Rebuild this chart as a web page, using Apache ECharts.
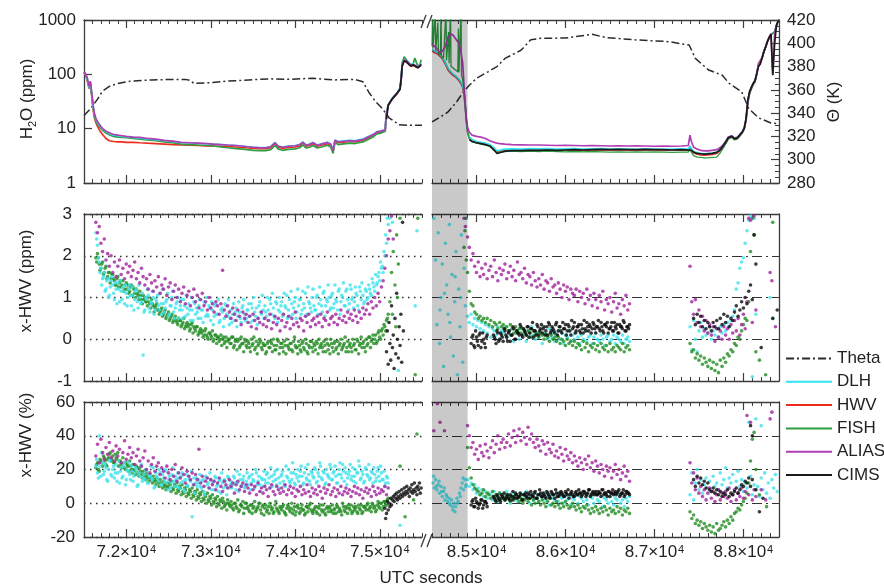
<!DOCTYPE html>
<html>
<head>
<meta charset="utf-8">
<script src="https://cdn.jsdelivr.net/npm/echarts/dist/echarts.min.js"></script>
<style>html,body{margin:0;padding:0;background:#fff}#chart{width:884px;height:587px}</style>
</head>
<body>
<div id="chart"></div>
<script>
// ---------- UTC ranges of the two flight segments (axis break between them) ----------
const rangeL = [71500, 75500];
const rangeR = [84500, 88400];
const majorL = [72000, 73000, 74000, 75000];
const majorR = [85000, 86000, 87000, 88000];
const shade = [84500, 84900];            // shaded interval (UTC s)

// ---------- top panel: H2O (ppm) per instrument, first segment ----------
const tTopL = [71500,71520,71540,71560,71575,71590,71605,71620,
  71640,71660,71690,71720,71760,71800,71850,71900,71950,72000,
  72080,72160,72250,72350,72450,72550,72650,72750,72850,72950,
  73030,73120,73200,73300,73380,73430,73500,73580,73650,73710,
  73760,73800,73850,73920,74000,74050,74090,74130,74170,74210,
  74260,74300,74340,74380,74420,74447,74470,74510,74550,74600,
  74650,74700,74750,74800,74850,74885,74930,74967,75000,75040,
  75065,75075,75100,75145,75180,75205,75240,75255,75265,75290,
  75320,75345,75370,75395,75415,75450,75475,75490];
const dlhTopL = [110,100,80,58,72,45,28,19,
  15,13,11.2,9.8,8.8,8.2,7.6,7.4,7.2,7.1,
  6.9,6.7,6.5,6.3,6.0,5.8,5.5,5.45,5.35,5.3,
  5.2,5.1,5.0,4.9,4.8,4.7,4.6,4.5,4.5,4.7,
  5.6,4.8,4.6,4.8,4.9,5.1,5.7,5.0,5.2,5.6,
  5.0,5.2,5.4,5.6,5.2,4.0,6.2,5.8,5.9,6.0,
  6.1,6.0,6.2,6.4,7.0,7.4,8.0,8.8,9.0,9.3,
  9.8,18,28,36,42,46,56,90,150,190,
  175,165,150,155,165,140,150,160];
const aliasTopL = [112,102,85,60,75,48,30,20,
  15.5,13.5,11.5,10,9.0,8.4,7.8,7.6,7.4,7.2,
  7.0,6.9,6.6,6.4,6.1,5.9,5.6,5.5,5.4,5.3,
  5.2,5.1,5.0,4.9,4.75,4.65,4.55,4.45,4.45,4.65,
  5.5,4.75,4.55,4.75,4.85,5.05,5.6,4.95,5.15,5.5,
  4.95,5.15,5.35,5.55,5.15,3.9,6.1,5.7,5.8,5.9,
  6.0,5.9,6.1,6.3,6.9,7.3,7.9,8.7,8.9,9.2,
  9.7,17,27,35,41,45,55,88,145,185,
  175,160,148,150,160,138,148,155];
const hwvTopL = [105,95,75,55,68,42,25,16.5,
  13,11,9,7.8,6.6,6.0,5.8,5.7,5.7,5.6,
  5.6,5.5,5.4,5.3,5.2,5.1,5.0,4.95,4.9,4.8,
  4.8,4.75,4.7,4.6,4.5,4.45,4.35,4.3,4.3,4.45,
  5.3,4.55,4.35,4.5,4.6,4.8,5.4,4.75,4.9,5.3,
  4.75,4.9,5.1,5.3,4.9,3.8,5.9,5.5,5.6,5.7,
  5.8,5.7,5.9,6.1,6.6,7.0,7.6,8.3,8.6,8.9,
  9.3,17,27,34,40,44,53,85,140,180,
  165,155,140,145,155,132,142,150];
const fishTopL = [108,98,78,56,70,44,27,18,
  14,12,10.5,9.3,8.3,7.7,7.2,7.0,6.9,6.8,
  6.6,6.4,6.2,6.0,5.7,5.5,5.2,5.1,5.0,4.9,
  4.8,4.6,4.45,4.3,4.2,4.1,4.0,3.95,3.95,4.1,
  4.9,4.2,4.0,4.15,4.25,4.45,5.0,4.4,4.55,4.9,
  4.4,4.55,4.75,4.95,4.6,3.5,5.5,5.1,5.2,5.3,
  5.4,5.3,5.5,5.7,6.2,6.6,7.2,8.0,8.2,8.6,
  9.0,17,27,35,41,45,55,92,165,210,
  180,165,150,155,200,140,150,185];
const tCimsTopL = [75080,75100,75145,75180,75205,75240,75255,75265,75290,75320,75345,75370,75395,75415,75450,75475,75490];
const cimsTopL = [15,27,35,40,45,53,86,142,178,168,152,142,150,156,132,142,152];

// ---------- top panel: H2O (ppm), second segment ----------
const tTopR = [84500,84530,84560,84590,84620,84650,84680,84710,84740,84770,
  84800,84825,84845,84860,84872,84885,84900,84920,84950,85000,
  85050,85100,85150,85200,85231,85260,85320,85400,85500,85600,
  85700,85800,85900,86000,86100,86200,86300,86400,86500,86600,
  86700,86800,86900,87000,87100,87200,87300,87380,87400,87415,
  87440,87480,87520,87560,87600,87650,87700,87740,87770,87800,
  87830,87870,87900,87930,87960,87990,88010,88030,88050,88070,
  88090,88110,88130,88150,88170,88190,88210,88230,88250,88270,
  88290,88310,88330,88350,88370,88390,88400];
const hwvTopR = [270,250,240,215,190,155,120,105,95,88,
  78,68,58,42,27,14,8.5,6.6,6.0,5.6,
  5.4,5.2,4.9,4.2,3.7,3.8,4.0,4.05,4.0,4.1,
  4.05,4.1,4.0,4.05,4.1,4.0,4.05,4.1,4.05,4.1,
  4.05,4.0,4.1,4.05,4.0,4.05,4.1,4.0,4.6,4.1,
  3.6,3.4,3.3,3.25,3.3,3.35,3.5,4.0,4.6,5.4,
  6.6,7.1,6.4,6.6,7.5,8.6,10,14,30,45,
  55,65,73,100,160,150,200,260,320,400,
  470,540,580,600,780,950,1000];
const dlhTopR = [290,270,255,230,200,165,130,112,100,92,
  82,72,62,46,30,15,9,7.0,6.3,5.8,
  5.6,5.4,5.1,4.4,3.9,4.0,4.2,4.25,4.2,4.3,
  4.25,4.3,4.2,4.25,4.3,4.2,4.25,4.3,4.2,4.25,
  4.2,4.15,4.25,4.2,4.15,4.2,4.25,4.2,4.8,4.3,
  3.8,3.6,3.5,3.45,3.5,3.55,3.7,4.2,4.9,5.8,
  7.0,7.4,6.7,6.9,7.8,9.0,10.5,15,32,47,
  57,67,76,104,150,160,205,265,325,405,
  475,545,590,610,790,960,1000];
// FISH inside the shaded interval is spiky, so it has its own finer time base
const fishGrayTop = [[84500,330],[84506,1500],[84512,300],[84530,290],[84536,1500],[84542,270],
  [84560,250],[84566,900],[84572,240],[84595,230],[84601,1500],[84607,220],[84630,200],
  [84651,190],[84657,1500],[84663,180],[84680,170],[84686,600],[84692,160],[84702,150],
  [84708,1500],[84714,140],[84740,130],[84760,120],[84790,112],[84797,700],[84803,108],
  [84820,100],[84826,1500],[84832,95],[84845,80],[84860,55],[84872,30],[84885,15],[84900,9]];
const fishTopR = [null,null,null,null,null,null,null,null,null,null,
  null,null,null,null,null,null,null,6.5,5.8,5.4,
  5.2,5.0,4.7,4.0,3.6,3.7,3.8,3.85,3.8,3.85,
  3.8,3.85,3.8,3.75,3.8,3.75,3.8,3.75,3.7,3.75,
  3.7,3.75,3.7,3.75,3.7,3.65,3.7,3.7,4.2,3.7,
  3.2,3.0,2.95,2.9,2.9,2.95,3.0,3.6,4.3,5.2,
  6.4,6.9,6.2,6.4,7.3,8.4,9.8,15,31,44,
  54,64,72,100,155,150,195,255,315,395,
  465,535,580,600,780,950,1000];
const aliasTopR = [350,330,290,250,270,330,480,560,520,440,
  380,260,160,60,30,16,10.5,8.6,7.6,7.2,
  7.0,6.6,6.0,5.6,5.4,5.3,5.2,5.1,5.05,5.0,
  5.0,4.95,4.9,4.95,4.9,4.85,4.9,4.85,4.8,4.85,
  4.8,4.85,4.8,4.75,4.8,4.75,4.8,4.9,7.6,5.8,
  4.6,4.2,4.0,3.9,3.9,4.0,4.1,4.5,5.0,5.8,
  7.0,7.4,6.7,6.9,7.8,9.0,10.5,15,33,48,
  58,68,77,105,150,160,205,265,325,410,
  490,560,95,520,800,960,1000];
const cimsTopR = [null,null,null,null,null,null,null,null,null,null,
  null,null,null,null,null,null,null,6.3,5.8,5.5,
  5.3,5.1,4.8,4.0,3.5,3.6,3.85,3.95,3.95,4.0,
  4.0,4.05,4.0,4.05,4.1,4.05,4.1,4.15,4.1,4.15,
  4.1,4.1,4.15,4.1,4.1,4.05,4.1,4.05,4.4,4.0,
  3.7,3.5,3.45,3.4,3.45,3.5,3.65,4.1,4.8,5.6,
  6.8,7.2,6.5,6.7,7.6,8.8,10.2,15.5,34,48,
  58,68,76,103,140,155,200,260,320,400,
  480,550,98,350,780,950,1000];

// ---------- potential temperature Theta (K) ----------
const tThetaL = [71500,71580,71660,71720,71800,71900,72050,72300,72550,72700,72760,72800,72950,73200,
  73450,73700,73950,74200,74450,74700,74800,74870,74950,75030,75110,75230,75350,75500];
const thetaL = [338,344,352,359,363,365.5,367.5,368.5,369,369,368,365.5,366,367.5,
  368.5,369.5,369,370,368.5,369,367,358,350,344,336,330,329.5,329.5];
const tThetaR = [84500,84600,84680,84780,84840,84920,85000,85130,85230,85320,85500,85610,85720,86000,
  86300,86450,86780,87160,87390,87460,87610,87760,87840,87980,88060,88170,88310,88400];
const thetaR = [332.5,337,341,350,357,364,370,375.5,380,387,394,403,404.3,404.5,
  407.7,405,403,401.4,398.5,387,377,372.7,365.6,358.4,344,336,331.5,331];

// ---------- difference to HWV, two interleaved 20 s sample series ----------
const dt = 20;
const tMidL0 = 71640, tMidL1 = 71650, tSegA0 = 84900, tCimsA0 = 84940, tCimsA1 = 84950, tSegB0 = 87400, tCimsB0 = 87440;

// x-HWV (ppm), first segment
const dlhPpmL = [2.55,2.25,1.85,1.7,1.45,1.6,1.2,1.45,1.05,1.4,
  1.3,0.95,1.2,1.35,0.9,1.15,1.25,0.85,1.1,1.0,
  1.3,0.8,1.05,0.95,1.2,0.75,1.0,0.9,-0.38,0.7,
  0.95,1.05,0.65,0.85,1.0,0.7,0.9,0.8,1.1,0.6,
  0.85,0.75,0.95,0.55,0.8,1.0,0.65,0.75,0.9,0.5,
  0.8,0.7,0.95,0.55,0.75,0.85,0.45,0.7,0.9,0.6,
  0.65,0.8,0.5,0.7,0.9,0.55,0.6,0.8,0.45,0.7,
  0.55,0.85,0.6,0.4,0.7,0.65,0.5,0.8,0.55,0.35,
  0.7,0.6,0.45,0.75,0.55,0.65,0.4,0.8,0.6,0.5,
  0.7,0.55,0.85,0.45,0.65,0.75,0.5,0.9,0.6,0.7,
  0.8,0.55,0.7,0.95,0.6,0.75,0.5,0.85,0.7,0.65,
  0.9,0.6,0.8,1.05,0.7,0.55,0.85,0.75,1.0,0.65,
  0.8,0.95,0.7,0.85,1.1,0.6,0.9,0.75,1.0,0.8,
  0.7,1.05,0.85,0.95,0.65,1.15,0.8,0.9,1.0,0.75,
  1.1,0.85,0.95,0.7,1.2,0.9,1.0,0.8,1.15,0.95,
  0.85,1.2,1.0,0.9,1.1,0.8,1.25,0.95,1.05,0.9,
  1.15,1.0,1.2,1.05,1.35,1.15,1.3,1.5,1.4,1.7,
  1.6,2.0,2.3,2.75];
const dlhPpmL2 = [2.4,1.95,1.6,1.3,1.5,1.15,1.4,1.0,1.25,1.5,
  1.1,1.35,0.85,1.2,1.4,0.95,1.15,1.3,0.8,1.2,
  1.05,1.25,0.7,1.15,0.9,1.3,0.85,1.1,0.65,1.0,
  1.2,0.75,0.9,1.15,0.6,0.95,1.05,0.7,0.85,1.2,
  0.65,0.9,1.1,0.6,0.8,1.15,0.5,0.85,1.0,0.7,
  0.95,0.5,0.8,1.05,0.6,0.7,1.0,0.45,0.85,0.75,
  0.5,0.95,0.7,0.4,0.85,1.0,0.55,0.75,0.9,0.35,
  0.8,0.6,0.95,0.45,0.75,0.3,0.85,0.6,0.95,0.5,
  0.4,0.85,0.65,0.3,0.9,0.5,0.75,0.95,0.45,0.7,
  0.85,0.4,0.75,1.0,0.55,0.35,0.8,0.65,1.05,0.5,
  0.65,1.0,0.45,0.85,1.1,0.55,0.9,0.4,1.0,0.8,
  0.55,1.1,0.75,0.5,0.95,1.15,0.6,0.9,0.5,1.2,
  0.95,0.6,1.15,0.75,0.55,1.25,0.85,0.65,1.2,0.7,
  1.0,0.6,1.25,0.8,1.1,0.55,0.95,1.3,0.7,1.05,
  0.75,1.3,0.9,1.15,0.6,1.05,1.35,0.8,1.2,0.7,
  1.3,0.95,0.75,1.25,1.05,0.7,1.15,1.35,0.85,1.2,
  0.95,1.3,1.1,1.45,1.25,1.55,1.35,1.6,1.85,1.75,
  2.1,2.5,2.9];
const dlhPpmLx = [[75120,2.9],[75150,2.8],[75220,-0.75],[75420,0.8],[75440,2.6]];
const fishPpmL = [1.95,2.05,1.8,1.7,1.85,1.6,1.75,1.5,1.6,1.45,
  1.55,1.4,1.3,1.5,1.35,1.25,1.4,1.2,1.35,1.3,
  1.15,1.3,1.25,1.1,1.2,1.05,1.15,0.95,1.05,1.0,
  0.9,1.0,0.85,0.95,0.8,0.75,0.85,0.7,0.65,0.75,
  0.6,0.7,0.55,0.65,0.5,0.6,0.45,0.55,0.4,0.5,
  0.45,0.35,0.5,0.3,0.4,0.35,0.25,0.4,0.3,0.2,
  0.3,0.15,0.25,0.2,0.1,0.25,0.05,0.15,0.1,0.2,
  0.0,0.1,0.05,-0.05,0.1,0.0,-0.1,0.05,-0.05,0.0,
  -0.1,0.05,-0.15,0.0,-0.05,-0.2,0.05,-0.1,0.0,-0.15,
  -0.05,-0.2,0.0,-0.1,-0.25,-0.05,-0.15,0.0,-0.2,-0.1,
  -0.15,-0.3,-0.05,-0.2,-0.1,0.0,-0.25,-0.15,-0.05,-0.2,
  -0.1,-0.3,-0.15,0.0,-0.2,-0.1,-0.25,-0.05,-0.15,-0.2,
  -0.05,-0.25,-0.1,-0.2,0.0,-0.3,-0.15,-0.05,-0.2,-0.1,
  -0.25,-0.1,0.0,-0.15,-0.2,-0.05,-0.3,-0.1,-0.15,0.0,
  -0.2,-0.1,-0.25,-0.05,-0.15,0.0,-0.2,-0.1,-0.3,-0.05,
  -0.15,-0.2,0.0,-0.1,-0.25,-0.05,-0.15,0.05,-0.1,-0.2,
  0.0,-0.1,0.05,-0.05,0.1,0.0,-0.1,0.15,0.05,0.2,
  0.1,0.3,0.45,0.6];
const fishPpmL2 = [1.85,1.95,1.65,1.8,1.55,1.7,1.45,1.6,1.35,1.55,
  1.45,1.3,1.45,1.25,1.4,1.3,1.15,1.3,1.2,1.1,
  1.25,1.05,1.2,1.0,1.1,0.95,1.05,0.85,0.95,0.9,
  0.8,0.9,0.75,0.85,0.65,0.8,0.7,0.6,0.7,0.55,
  0.65,0.5,0.6,0.45,0.55,0.4,0.5,0.45,0.35,0.45,
  0.3,0.4,0.25,0.35,0.3,0.2,0.35,0.15,0.25,0.3,
  0.1,0.2,0.15,0.05,0.2,0.1,0.0,0.15,0.05,-0.05,
  0.1,-0.1,0.05,0.0,-0.15,0.05,-0.05,-0.2,0.0,-0.1,
  0.05,-0.2,-0.05,-0.25,0.0,-0.15,-0.1,-0.3,-0.05,-0.2,
  -0.1,-0.3,-0.15,0.05,-0.2,-0.35,-0.1,-0.05,-0.25,-0.15,
  -0.35,-0.1,-0.2,-0.05,-0.3,-0.15,-0.25,0.0,-0.35,-0.1,
  -0.2,-0.05,-0.35,-0.15,-0.25,-0.1,-0.3,0.05,-0.2,-0.35,
  -0.15,-0.3,-0.05,-0.25,-0.1,-0.35,-0.2,-0.05,-0.3,-0.15,
  -0.05,-0.35,-0.2,-0.1,-0.3,-0.15,0.0,-0.25,-0.35,-0.1,
  -0.3,-0.05,-0.2,-0.35,-0.1,-0.25,-0.15,0.05,-0.2,-0.3,
  -0.1,-0.3,-0.15,-0.25,0.0,-0.35,-0.1,-0.2,-0.05,-0.3,
  -0.15,0.05,-0.2,0.0,-0.1,0.1,-0.05,0.2,0.0,0.25,
  0.35,0.2,0.5];
const fishPpmLx = [[75120,0.9],[75140,1.6],[75150,0.6],[75160,2.1],[75180,1.3],[75190,0.3],
  [75200,2.5],[75210,1.0],[75220,1.8],[75240,2.9],[75420,-0.85],[75450,2.9]];
const aliasPpmL = [2.8,2.55,2.7,2.3,2.1,2.4,1.9,2.05,1.75,2.0,
  1.6,1.85,1.5,1.75,1.9,1.55,1.7,1.45,1.8,1.6,
  1.75,1.5,1.65,1.85,1.45,1.6,1.35,1.7,1.5,1.3,
  1.45,1.2,1.55,1.35,1.15,1.4,1.25,1.5,1.1,1.3,
  1.2,1.45,1.05,1.25,1.35,0.95,1.15,1.3,1.0,1.2,
  0.9,1.1,1.25,0.85,1.05,1.15,0.8,1.0,1.2,0.9,
  1.05,0.75,0.95,1.1,0.8,0.9,0.7,1.0,0.75,0.85,
  0.65,0.9,0.8,0.6,0.85,1.65,0.7,0.55,0.8,0.65,
  0.5,0.75,0.6,0.45,0.7,0.55,0.35,0.65,0.5,0.6,
  0.4,0.55,0.3,0.6,0.45,0.25,0.5,0.4,0.65,0.35,
  0.5,0.3,0.45,0.6,0.25,0.4,0.55,0.35,0.5,0.2,
  0.45,0.6,0.3,0.4,0.55,0.25,0.5,0.35,0.65,0.4,
  0.3,0.5,0.45,0.2,0.55,0.4,0.6,0.3,0.45,0.5,
  0.35,0.55,0.4,0.6,0.3,0.5,0.45,0.65,0.35,0.5,
  0.55,0.4,0.6,0.35,0.5,0.7,0.45,0.55,0.4,0.65,
  0.5,0.6,0.45,0.7,0.55,0.4,0.65,0.5,0.75,0.6,
  0.7,0.85,0.6,0.9,0.75,1.0,0.8,1.1,0.9,1.25,
  1.4,1.7,2.0,2.4];
const aliasPpmLx = [[75120,2.6],[75140,2.95],[75160,2.4]];
const cimsPpmL = [[75080,-0.3],[75090,0.2],[75100,-0.6],[75110,0.4],[75120,-0.1],[75130,-0.5],[75140,0.8],
  [75150,-0.2],[75160,0.1],[75170,-0.7],[75180,0.5],[75190,-0.35],[75200,1.1],[75210,0.0],[75220,-0.45],
  [75230,0.3],[75240,-0.15],[75250,0.6],[75260,-0.55],[75270,2.8],[75280,0.2]];

// x-HWV (ppm), second segment
const dlhPpmGray = [[84520,2.9],[84540,1.9],[84555,0.35],[84570,2.55],[84585,-0.1],[84600,1.0],[84615,1.8],
  [84630,-0.65],[84650,2.3],[84665,1.3],[84680,0.6],[84695,2.75],[84710,0.05],[84725,1.55],[84740,-0.4],
  [84755,0.9],[84770,2.1],[84785,-0.85],[84800,1.2],[84815,0.3],[84830,2.5],[84845,-0.55],[84860,1.7],
  [84875,0.8],[84885,2.9],[84590,0.7],[84640,1.1],[84700,0.4],[84760,1.5],[84820,1.0]];
const dlhPpmRA = [0.55,0.4,0.6,0.35,0.5,0.3,0.45,0.25,0.4,0.2,
  0.35,0.15,0.3,0.05,0.25,0.2,0.1,0.3,0.0,0.2,
  0.15,0.3,0.05,0.2,0.1,0.25,-0.05,0.15,0.2,0.0,
  0.25,0.1,0.15,-0.05,0.2,0.05,0.3,0.1,0.0,0.15,
  0.05,0.2,-0.1,0.15,0.1,0.0,0.25,0.05,0.15,-0.05,
  0.1,0.2,0.0,0.15,-0.1,0.1,0.05,0.2,-0.05,0.1,
  0.0,0.15,0.05,-0.1,0.1,0.0,0.2,-0.05,0.05,0.1,
  -0.1,0.05,0.15,0.0,-0.05,0.1,0.0,-0.15,0.05,0.1,
  -0.05,0.0,0.1,-0.1,0.05,0.0,-0.05,0.1,-0.1,0.0,
  0.05,-0.05];
const dlhPpmRB = [0.3,-0.25,0.45,0.0,-0.3,0.2,0.4,0.05,0.25,0.1,
  0.15,0.3,0.0,0.2,0.1,0.25,0.05,0.3,0.15,0.35,
  0.2,0.4,0.3,0.45,0.55,0.7,1.2,1.35,1.7,1.85,
  1.95,2.3,2.6,2.85,2.95,-0.9,2.9,0.6];
const dlhPpmRx = [[88300,1.0],[88330,0.5]];
const fishPpmRA = [1.6,1.15,0.85,0.8,0.65,0.6,0.5,0.55,0.45,0.5,
  0.4,0.5,0.35,0.45,0.3,0.4,0.35,0.25,0.4,0.3,
  0.35,0.25,0.3,0.2,0.35,0.25,0.15,0.3,0.2,0.25,
  0.15,0.25,0.2,0.1,0.2,0.15,0.05,0.2,0.1,0.15,
  0.05,0.15,0.1,0.0,0.12,0.05,-0.05,0.1,0.0,0.05,
  -0.05,0.05,-0.1,0.0,-0.05,-0.15,0.0,-0.1,-0.05,-0.15,
  -0.05,-0.2,-0.1,-0.15,-0.25,-0.05,-0.2,-0.1,-0.3,-0.15,
  -0.2,-0.1,-0.25,-0.15,-0.3,-0.1,-0.2,-0.25,-0.15,-0.3,
  -0.1,-0.25,-0.2,-0.3,-0.15,-0.2,-0.25,-0.1,-0.3,-0.2,
  -0.15,-0.25];
const fishPpmRB = [-0.1,-0.3,-0.25,-0.45,-0.35,-0.5,-0.4,-0.6,-0.45,-0.55,
  -0.65,-0.5,-0.7,-0.55,-0.75,-0.6,-0.8,-0.5,-0.65,-0.45,
  -0.55,-0.35,-0.4,-0.25,-0.3,-0.1,-0.15,0.05,0.0,0.2,
  0.35,0.5,0.45,0.9,2.1,2.9,2.5,-0.3];
const fishPpmRx = [[84860,2.2],[84870,2.6],[84880,2.9],[84885,1.9],[88180,-0.5],[88250,-0.85],[88330,2.8]];
const aliasPpmRA = [2.45,2.2,1.9,2.05,1.75,1.6,1.85,1.5,1.7,1.55,
  1.8,1.45,1.65,1.75,1.5,1.9,1.6,1.4,1.7,1.55,
  1.65,1.8,1.45,1.6,1.75,1.5,1.65,1.4,1.85,1.55,
  1.6,1.45,1.7,1.35,1.55,1.5,1.3,1.6,1.4,1.25,
  1.45,1.3,1.55,1.2,1.4,1.35,1.15,1.45,1.25,1.3,
  1.1,1.35,1.2,1.0,1.3,1.15,1.25,0.95,1.2,1.1,
  1.05,1.2,0.9,1.15,1.0,1.1,0.85,1.2,0.95,1.05,
  0.8,1.1,0.95,0.75,1.05,0.9,1.15,0.7,0.95,0.85,
  1.0,0.65,0.9,1.1,0.75,0.85,0.6,0.95,0.8,1.05,
  0.7,0.85];
const aliasPpmRB = [1.75,0.9,0.6,0.95,0.4,0.7,0.3,0.55,0.2,0.45,
  0.15,0.35,0.1,0.3,-0.05,0.25,0.05,0.2,0.0,0.3,
  0.1,0.25,0.0,0.35,0.15,0.45,0.2,0.5,0.1,0.35,
  0.6,0.25,0.9,2.9,2.85,0.4,2.95,0.7];
const aliasPpmRx = [[84860,2.9],[84875,2.7],[88300,1.6],[88320,1.4],[88360,0.3]];
const cimsPpmRA = [-0.1,0.1,-0.2,0.05,-0.15,0.15,-0.05,0.0,-0.2,0.1,
  null,null,null,0.05,-0.1,0.15,0.0,0.1,-0.05,0.2,
  0.05,0.15,-0.05,0.1,0.25,0.0,0.15,0.1,0.3,0.05,
  0.2,0.1,0.3,0.15,0.25,0.05,0.2,0.35,0.1,0.25,
  0.15,0.3,0.2,0.1,0.35,0.2,0.25,0.15,0.4,0.2,
  0.3,0.15,0.25,0.35,0.2,0.3,0.1,0.25,0.4,0.2,
  0.3,0.2,0.35,0.15,0.25,0.4,0.2,0.3,0.25,0.35,
  0.15,0.3,0.25,0.4,0.2,0.35,0.3,0.15,0.25,0.4,
  0.2,0.3,0.35,0.15,0.3,0.25,0.4,0.2,0.3,0.35];
const cimsPpmRA2 = [0.05,-0.15,0.2,-0.05,0.1,-0.2,0.15,-0.1,0.05,null,
  null,null,0.1,0.0,0.2,-0.05,0.15,0.05,0.25,0.1,
  -0.05,0.2,0.1,0.3,0.0,0.2,0.15,0.35,0.1,0.25,
  0.15,0.3,0.05,0.25,0.4,0.2,0.1,0.3,0.2,0.35,
  0.25,0.1,0.3,0.4,0.15,0.3,0.2,0.35,0.1,0.3,
  0.2,0.4,0.25,0.1,0.35,0.2,0.45,0.3,0.15,0.3,
  0.35,0.15,0.25,0.45,0.2,0.3,0.35,0.15,0.4,0.25,
  0.3,0.45,0.2,0.3,0.15,0.35,0.4,0.25,0.3,0.2,
  0.4,0.25,0.15,0.35,0.3,0.45,0.2,0.3,0.25];
const cimsPpmRB = [0.5,0.35,0.6,0.4,0.55,0.3,0.45,0.25,0.4,0.3,
  0.2,0.4,0.3,0.45,0.25,0.5,0.35,0.6,0.4,0.55,
  0.3,0.5,0.45,0.65,0.8,0.55,0.7,0.9,0.75,1.0,
  0.85,1.15,1.3,0.95];
const cimsPpmRx = [[88120,2.5],[88140,1.8],[88200,-0.2],[88330,0.5],[88380,0.7]];

// x-HWV (%), first segment
const dlhPctL = [22,18,40,16,24,19,21,13,25,17,
  20,15,23,18,12,21,16,24,14,19,
  17,22,13,18,20,11,16,23,15,14,
  19,12,17,15,21,10,16,13,18,11,
  15,20,12,14,9,17,13,16,10,15,
  12,18,8,14,11,16,13,-8,15,12,
  10,14,10,13,7,16,11,9,14,12,
  8,15,11,13,6,12,14,10,16,9,
  13,11,15,8,12,17,10,14,9,13,
  11,16,12,14,9,18,13,11,15,10,
  14,17,12,9,16,13,19,11,15,12,
  17,13,10,16,20,12,14,18,11,15,
  13,19,16,12,21,14,17,11,18,15,
  20,13,16,22,14,18,12,17,15,21,
  14,19,16,12,20,17,23,13,18,15,
  19,14,21,16,12,18,22,15,17,13,
  20,16,14,19,12,17,15,21,13,18,
  14,10,16,12];
const dlhPctL2 = [26,15,22,30,17,23,14,20,26,16,
  22,18,13,25,19,15,22,11,20,24,
  14,19,16,21,10,18,22,13,17,20,
  12,16,22,14,9,18,15,20,11,17,
  13,19,8,16,12,21,10,14,18,9,
  16,13,7,17,10,14,19,11,6,15,
  12,17,9,14,5,15,12,18,8,13,
  16,10,7,14,18,9,13,5,15,11,
  9,16,12,19,7,14,11,16,10,18,
  15,8,17,13,20,11,16,7,14,19,
  12,18,15,21,10,17,14,20,9,16,
  19,11,22,15,13,18,24,12,17,20,
  16,22,11,18,15,23,13,19,16,21,
  12,18,24,15,19,11,20,16,23,14,
  18,22,12,17,24,15,19,21,11,17,
  23,16,13,20,18,25,14,19,12,21,
  17,23,15,18,21,13,19,16,22,14,
  19,12,15];
const dlhPctLx = [[75240,-13]];
const fishPctL = [21,24,19,25,22,27,23,26,29,25,
  28,24,27,30,25,23,27,21,24,22,
  25,20,23,19,22,18,21,17,19,16,
  18,15,17,14,16,13,15,12,14,11,
  13,10,12,9,11,13,8,10,12,7,
  9,11,6,8,10,5,7,9,4,6,
  8,3,5,7,2,4,6,1,3,5,
  0,2,4,-1,1,3,-2,0,2,-1,
  1,-3,0,-2,2,-4,-1,1,-3,0,
  -2,-5,-1,-3,1,-4,-2,0,-6,-1,
  -3,-5,-2,0,-4,-6,-1,-3,-5,-2,
  -4,-1,-6,-3,-2,-5,0,-4,-7,-2,
  -3,-5,-1,-4,-6,-2,-3,0,-5,-4,
  -2,-6,-3,-1,-5,-4,-7,-2,-3,-5,
  -1,-4,-6,-2,-3,-5,0,-4,-2,-6,
  -3,-1,-5,-4,-2,-6,-3,-1,-5,-2,
  -4,0,-3,-5,-1,-2,-4,1,-3,0,
  -2,1,-1,3];
const fishPctL2 = [23,20,26,24,28,25,22,27,30,26,
  24,29,26,22,25,21,24,20,23,19,
  22,18,20,17,21,16,19,15,17,14,
  16,13,15,12,14,11,13,10,12,9,
  11,8,10,12,7,9,11,6,8,10,
  5,7,9,4,6,8,3,5,7,2,
  4,6,1,3,5,0,2,4,-1,1,
  3,-2,0,2,-3,1,-1,-4,0,-2,
  -1,-4,0,-3,-5,-1,-2,-6,0,-3,
  -4,-1,-6,-2,-5,-3,0,-4,-2,-7,
  -1,-4,-6,-2,-3,-5,1,-4,-6,-3,
  -2,-5,-7,-1,-4,-3,-6,-2,-5,-1,
  -6,-3,-4,-7,-2,-5,-1,-4,-6,-3,
  -5,-2,-7,-4,-1,-6,-3,-5,-2,-4,
  -6,-3,-1,-5,-4,-7,-2,-5,-3,-1,
  -4,-6,-2,-3,-5,-1,-4,-6,-2,-3,
  -1,-4,-2,0,-3,-5,-1,-2,0,-4,
  1,-1,2];
const fishPctLx = [[75240,22],[75300,-8],[75400,2],[75440,41]];
const aliasPctL = [28,35,24,38,30,26,33,29,36,27,
  31,25,34,28,32,24,30,37,26,29,
  33,27,30,23,28,32,25,22,27,31,
  20,25,18,23,27,19,22,24,17,21,
  19,15,22,18,14,20,16,23,13,18,
  15,21,17,12,19,16,14,18,11,17,
  14,32,12,16,10,13,15,9,14,11,
  13,8,12,15,10,7,13,11,9,14,
  10,12,6,11,13,8,10,12,7,11,
  9,6,11,8,10,5,12,7,9,6,
  10,8,4,9,11,7,5,10,8,6,
  9,7,11,5,8,10,6,9,4,8,
  7,10,5,8,6,11,7,4,9,6,
  8,5,10,7,3,9,6,8,11,5,
  7,9,4,8,6,10,5,7,9,6,
  8,4,7,10,6,9,5,8,3,7,
  9,6,8,4,10,7,5,9,6,8,
  7,10,5,9];
const cimsPctL = [[75060,-3],[75070,-9],[75080,-6],[75090,1],[75100,-4],[75110,0],[75120,-2],[75130,3],
  [75140,-1],[75150,2],[75160,4],[75170,1],[75180,5],[75190,3],[75200,6],[75210,2],[75220,4],[75230,7],
  [75240,3],[75250,5],[75260,8],[75270,4],[75280,6],[75290,9],[75300,5],[75310,7],[75320,10],[75330,6],
  [75340,8],[75350,4],[75360,9],[75370,7],[75380,11],[75390,6],[75400,8],[75410,12],[75420,7],[75430,9],
  [75440,5],[75450,10],[75460,8],[75470,12],[75480,6],[75490,9]];

// x-HWV (%), second segment
const dlhPctGray = [[84510,12],[84525,9],[84540,14],[84555,8],[84570,11],[84585,6],[84600,10],[84615,4],
  [84630,7],[84645,2],[84660,5],[84675,1],[84690,3],[84705,-1],[84720,2],[84735,-4],[84750,0],[84765,-2],
  [84780,3],[84795,1],[84810,6],[84825,9],[84840,12],[84855,8],[84870,14],[84885,11],
  [84518,16],[84548,10],[84578,13],[84608,7],[84638,9],[84668,4],[84698,0],[84728,-2],[84758,-5],
  [84788,0],[84818,4],[84848,15],[84878,10]];
const aliasPctGray = [[84520,43],[84560,59],[84590,48],[84640,43]];
const dlhPctRA = [14,10,12,8,11,6,9,5,8,4,
  7,3,6,5,2,7,4,1,6,3,
  5,2,7,4,0,6,3,5,1,4,
  6,2,4,7,3,0,5,2,6,3,
  1,5,3,6,2,4,-1,5,3,2,
  6,1,4,3,0,5,2,4,-1,3,
  2,5,0,4,3,1,6,2,-1,4,
  3,0,5,2,1,4,-2,3,2,0,
  4,1,-1,3,2,5,0,2,-2,3,
  1,4];
const dlhPctRB = [5,18,2,12,20,8,14,6,11,15,
  9,13,7,16,10,12,8,18,11,14,
  21,9,15,12,17,8,13,19,10,14,
  7,12,9,48,16,5,11,8];
const dlhPctRx = [[88160,10],[88180,4],[88200,15],[88220,8],[88240,18],[88260,6],[88280,12],[88300,3],
  [88320,14],[88340,9],[88360,17],[88380,7],[88140,50],[88200,46]];
const fishPctRA = [33,21,15,11,9,8,7,5,6,8,
  4,6,5,3,7,4,5,2,6,3,
  4,2,5,3,1,4,2,5,3,1,
  3,0,2,4,1,3,-1,2,0,3,
  1,-1,2,0,-2,1,3,-1,0,-2,
  1,-1,-3,0,-2,1,-1,-3,-2,0,
  -2,-4,-1,-3,-5,-2,-3,-1,-4,-6,
  -3,-5,-2,-4,-6,-3,-5,-2,-4,-7,
  -3,-5,-4,-6,-2,-5,-3,-7,-4,-5,
  -3,-6];
const fishPctRB = [-5,-9,-7,-12,-10,-13,-11,-15,-12,-14,
  -16,-13,-17,-14,-18,-12,-16,-15,-13,-11,
  -14,-10,-12,-8,-10,-6,-5,-3,-4,-1,
  1,3,6,12,25,38,42,20];
const fishPctRx = [[88180,5],[88260,-2]];
const aliasPctRA = [46,40,33,36,29,32,26,34,30,28,
  35,31,27,33,37,30,35,40,32,36,
  38,33,36,41,34,39,43,36,40,44,
  37,42,39,35,45,38,41,36,33,38,
  34,31,37,35,29,36,32,30,35,28,
  31,27,33,29,25,32,28,26,30,24,
  28,25,22,27,24,20,26,23,28,21,
  24,19,25,22,18,23,20,16,22,19,
  21,15,19,23,17,20,14,18,22,16,
  19,13];
const aliasPctRB = [24,12,18,8,15,6,10,4,8,2,
  6,9,3,7,1,5,8,2,6,4,
  7,3,9,1,5,8,2,6,4,9,
  3,7,52,5,48,2,8,4];
const aliasPctRx = [[88300,50],[88320,54],[88200,8],[88250,2]];
const cimsPctRA = [-1,2,-2,1,-3,0,2,-1,1,-2,
  null,null,null,3,1,4,2,5,3,2,
  4,3,5,2,4,6,3,4,5,2,
  5,4,6,3,5,4,7,3,5,6,
  4,5,3,6,4,7,5,3,6,4,
  5,6,4,7,5,3,6,5,4,7,
  5,6,4,7,6,5,8,4,6,5,
  7,5,6,4,8,6,5,7,4,6,
  5,7,6,8,5,6,4,7,6,5];
const cimsPctRA2 = [1,-2,3,0,-1,2,-3,1,0,null,
  null,null,4,2,5,3,1,4,6,3,
  5,2,4,7,3,5,4,6,2,5,
  6,3,5,7,4,6,3,5,8,4,
  6,4,7,5,3,6,5,8,4,6,
  7,5,4,6,8,5,7,4,6,5,
  8,6,5,7,4,6,8,5,7,6,
  5,7,6,8,5,6,4,7,6,8,
  6,5,7,4,6,8,5,7,6];
const cimsPctRB = [14,10,16,12,15,11,13,9,12,8,
  7,9,6,8,5,7,4,6,5,8,
  4,6,5,7,9,6,8,11,10,13,
  12,15,10,14];
const cimsPctRx = [[88080,46],[88100,40],[88140,8],[88180,-5],[88220,3]];

// ---------- helpers ----------
const FONT = '"Liberation Sans", Arial, Helvetica, sans-serif';
const INK = '#222';
const AX = '#3c3c3c';
const C = {
  dlhLine: '#2fe3f0', hwvLine: '#ee2c1c', fishLine: '#2f9e43', aliasLine: '#b03db2', cimsLine: '#1a1a1a',
  dlhDot: '#3fe2ec', fishDot: '#228c22', aliasDot: '#a0229e', cimsDot: '#0a0a0a'
};
const zip = (ts, vs) => ts.map((t, i) => [t, vs[i]]).filter(p => p[1] !== null);
const onGrid = (t0, vs) => vs.map((v, i) => [t0 + i * dt, v]).filter(p => p[1] !== null);

const grids = [
  { left: 84, top: 20, width: 338, height: 163 },
  { left: 432, top: 20, width: 347, height: 163 },
  { left: 84, top: 214, width: 338, height: 167 },
  { left: 432, top: 214, width: 347, height: 167 },
  { left: 84, top: 402, width: 338, height: 135 },
  { left: 432, top: 402, width: 347, height: 135 }
];

const utcLabel = v => '{m|' + (v / 1e4).toFixed(1) + '×10}{e|4}';
const utcRich = {
  m: { fontSize: 17, color: INK, fontFamily: FONT },
  e: { fontSize: 11, color: INK, fontFamily: FONT, verticalAlign: 'top', padding: [0, 0, 0, 1] }
};

// four x axes per grid: minor ticks + line, major ticks (+labels), mirrored on top
const xAxes = [];
grids.forEach((g, gi) => {
  const right = gi % 2 === 1;
  const rg = right ? rangeR : rangeL;
  const majors = right ? majorR : majorL;
  const base = { gridIndex: gi, type: 'value', min: rg[0], max: rg[1], splitLine: { show: false } };
  const line = { show: true, onZero: false, lineStyle: { color: AX, width: 1.3 } };
  ['bottom', 'top'].forEach(pos => {
    xAxes.push(Object.assign({}, base, {
      position: pos, interval: 100, axisLine: line,
      axisTick: { show: true, inside: true, length: 4, lineStyle: { color: AX, width: 1 } },
      axisLabel: { show: false }
    }));
    xAxes.push(Object.assign({}, base, {
      position: pos, axisLine: { show: false, onZero: false },
      axisTick: { show: true, inside: true, length: 8, customValues: majors, lineStyle: { color: AX, width: 1.2 } },
      axisLabel: { show: pos === 'bottom' && gi >= 4, customValues: majors, margin: 7, formatter: utcLabel, rich: utcRich }
    }));
  });
});
const XA = gi => gi * 4;

const dotted = { type: [1.5, 4.5], color: '#2a2a2a', width: 1.4 };
const dashDot = { type: [10, 4, 2, 4], color: '#333', width: 1.2 };
const yLabel = m => ({ show: true, fontSize: 17, color: INK, fontFamily: FONT, margin: m });
const yAxes = [
  // 0: H2O, first segment
  { gridIndex: 0, type: 'log', logBase: 10, min: 1, max: 1000, position: 'left',
    axisLine: { show: true, onZero: false, lineStyle: { color: AX, width: 1.3 } },
    axisTick: { show: true, inside: true, length: 8, lineStyle: { color: AX, width: 1.2 } },
    axisLabel: Object.assign(yLabel(8), { formatter: v => String(Math.round(v)) }), splitLine: { show: false } },
  // 1: Theta scale for first segment
  { gridIndex: 0, type: 'value', min: 280, max: 420, position: 'right', show: false, splitLine: { show: false } },
  // 2: H2O scale for second segment
  { gridIndex: 1, type: 'log', logBase: 10, min: 1, max: 1000, position: 'left', show: false, splitLine: { show: false } },
  // 3: Theta axis
  { gridIndex: 1, type: 'value', min: 280, max: 420, interval: 20, position: 'right',
    axisLine: { show: true, onZero: false, lineStyle: { color: AX, width: 1.3 } },
    axisTick: { show: true, inside: true, length: 8, lineStyle: { color: AX, width: 1.2 } },
    minorTick: { show: true, splitNumber: 4, length: 4, lineStyle: { color: AX, width: 1 } },
    axisLabel: yLabel(8), splitLine: { show: false } },
  // 4,5: x-HWV (ppm)
  { gridIndex: 2, type: 'value', min: -1, max: 3, interval: 1, position: 'left',
    axisLine: { show: true, onZero: false, lineStyle: { color: AX, width: 1.3 } },
    axisTick: { show: false }, axisLabel: yLabel(12), splitLine: { show: true, lineStyle: dotted } },
  { gridIndex: 3, type: 'value', min: -1, max: 3, interval: 1, position: 'right',
    axisLine: { show: true, onZero: false, lineStyle: { color: AX, width: 1.3 } },
    axisTick: { show: false }, axisLabel: { show: false }, splitLine: { show: true, lineStyle: dashDot } },
  // 6,7: x-HWV (%)
  { gridIndex: 4, type: 'value', min: -20, max: 60, interval: 20, position: 'left',
    axisLine: { show: true, onZero: false, lineStyle: { color: AX, width: 1.3 } },
    axisTick: { show: false }, axisLabel: yLabel(9), splitLine: { show: true, lineStyle: dotted } },
  { gridIndex: 5, type: 'value', min: -20, max: 60, interval: 20, position: 'right',
    axisLine: { show: true, onZero: false, lineStyle: { color: AX, width: 1.3 } },
    axisTick: { show: false }, axisLabel: { show: false }, splitLine: { show: true, lineStyle: dashDot } }
];

function lineS(name, color, xi, yi, data, width) {
  return { type: 'line', name, xAxisIndex: xi, yAxisIndex: yi, data, symbol: 'none', showSymbol: false,
    connectNulls: false, clip: true, silent: true, animation: false,
    lineStyle: { color, width: width || 1.7 }, itemStyle: { color } };
}
function thetaS(xi, yi, data) {
  return { type: 'line', name: 'Theta', xAxisIndex: xi, yAxisIndex: yi, data, symbol: 'none', showSymbol: false,
    silent: true, animation: false, clip: true,
    lineStyle: { color: '#2b2b2b', width: 1.5, type: [8, 3, 2, 3] }, itemStyle: { color: '#2b2b2b' } };
}
function dotS(name, color, xi, yi, data) {
  return { type: 'scatter', name, xAxisIndex: xi, yAxisIndex: yi, data, symbol: 'circle', symbolSize: 3.6,
    silent: true, animation: false, clip: true, itemStyle: { color } };
}

const series = [
  // top panel, first segment
  thetaS(XA(0), 1, zip(tThetaL, thetaL)),
  lineS('HWV', C.hwvLine, XA(0), 0, zip(tTopL, hwvTopL)),
  lineS('FISH', C.fishLine, XA(0), 0, zip(tTopL, fishTopL)),
  lineS('DLH', C.dlhLine, XA(0), 0, zip(tTopL, dlhTopL)),
  lineS('ALIAS', C.aliasLine, XA(0), 0, zip(tTopL, aliasTopL)),
  lineS('CIMS', C.cimsLine, XA(0), 0, zip(tCimsTopL, cimsTopL)),
  // top panel, second segment
  thetaS(XA(1), 3, zip(tThetaR, thetaR)),
  lineS('HWV', C.hwvLine, XA(1), 2, zip(tTopR, hwvTopR)),
  lineS('DLH', C.dlhLine, XA(1), 2, zip(tTopR, dlhTopR)),
  lineS('FISH', C.fishLine, XA(1), 2, fishGrayTop.concat(zip(tTopR, fishTopR)), 1.3),
  lineS('ALIAS', C.aliasLine, XA(1), 2, zip(tTopR, aliasTopR)),
  lineS('CIMS', C.cimsLine, XA(1), 2, zip(tTopR, cimsTopR)),
  // x-HWV (ppm)
  dotS('FISH', C.fishDot, XA(2), 4, onGrid(tMidL0, fishPpmL).concat(onGrid(tMidL1, fishPpmL2), fishPpmLx)),
  dotS('DLH', C.dlhDot, XA(2), 4, onGrid(tMidL0, dlhPpmL).concat(onGrid(tMidL1, dlhPpmL2), dlhPpmLx)),
  dotS('ALIAS', C.aliasDot, XA(2), 4, onGrid(tMidL0, aliasPpmL).concat(aliasPpmLx)),
  dotS('CIMS', C.cimsDot, XA(2), 4, cimsPpmL),
  dotS('DLH', C.dlhDot, XA(3), 5, dlhPpmGray.concat(onGrid(tSegA0, dlhPpmRA), onGrid(tSegB0, dlhPpmRB), dlhPpmRx)),
  dotS('FISH', C.fishDot, XA(3), 5, onGrid(tSegA0, fishPpmRA).concat(onGrid(tSegB0, fishPpmRB), fishPpmRx)),
  dotS('ALIAS', C.aliasDot, XA(3), 5, onGrid(tSegA0, aliasPpmRA).concat(onGrid(tSegB0, aliasPpmRB), aliasPpmRx)),
  dotS('CIMS', C.cimsDot, XA(3), 5, onGrid(tCimsA0, cimsPpmRA).concat(onGrid(tCimsA1, cimsPpmRA2), onGrid(tCimsB0, cimsPpmRB), cimsPpmRx)),
  // x-HWV (%)
  dotS('FISH', C.fishDot, XA(4), 6, onGrid(tMidL0, fishPctL).concat(onGrid(tMidL1, fishPctL2), fishPctLx)),
  dotS('DLH', C.dlhDot, XA(4), 6, onGrid(tMidL0, dlhPctL).concat(onGrid(tMidL1, dlhPctL2), dlhPctLx)),
  dotS('ALIAS', C.aliasDot, XA(4), 6, onGrid(tMidL0, aliasPctL)),
  dotS('CIMS', C.cimsDot, XA(4), 6, cimsPctL),
  dotS('DLH', C.dlhDot, XA(5), 7, dlhPctGray.concat(onGrid(tSegA0, dlhPctRA), onGrid(tSegB0, dlhPctRB), dlhPctRx)),
  dotS('FISH', C.fishDot, XA(5), 7, onGrid(tSegA0, fishPctRA).concat(onGrid(tSegB0, fishPctRB), fishPctRx)),
  dotS('ALIAS', C.aliasDot, XA(5), 7, aliasPctGray.concat(onGrid(tSegA0, aliasPctRA), onGrid(tSegB0, aliasPctRB), aliasPctRx)),
  dotS('CIMS', C.cimsDot, XA(5), 7, onGrid(tCimsA0, cimsPctRA).concat(onGrid(tCimsA1, cimsPctRA2), onGrid(tCimsB0, cimsPctRB), cimsPctRx))
];

const option = {
  animation: false,
  backgroundColor: '#fff',
  textStyle: { fontFamily: FONT },
  grid: grids,
  xAxis: xAxes,
  yAxis: yAxes,
  legend: {
    orient: 'vertical', left: 780, top: 345, padding: 5, itemWidth: 46, itemHeight: 14, itemGap: 6.3,
    selectedMode: false, data: ['Theta', 'DLH', 'HWV', 'FISH', 'ALIAS', 'CIMS'],
    itemStyle: { opacity: 0 },
    lineStyle: { width: 2 },
    textStyle: { fontSize: 17, color: INK, fontFamily: FONT }
  },
  series
};

const chart = echarts.init(document.getElementById('chart'));
chart.setOption(option);

// shaded interval spanning all three rows, break marks and titles
const bx0 = chart.convertToPixel({ xAxisIndex: XA(1) }, shade[0]);
const bx1 = chart.convertToPixel({ xAxisIndex: XA(1) }, shade[1]);
const byTop = chart.convertToPixel({ yAxisIndex: 3 }, 420);
const byBot = chart.convertToPixel({ yAxisIndex: 7 }, -20);
const gapMid = (grids[0].left + grids[0].width + grids[1].left) / 2;

function slash(x, y) {
  return { type: 'line', silent: true, z: 60,
    shape: { x1: x - 3, y1: y + 7, x2: x + 2, y2: y - 6 }, style: { stroke: AX, lineWidth: 1.3 } };
}
function vtitle(x, y, text, rich) {
  return { type: 'text', x, y, rotation: Math.PI / 2, silent: true, z: 60,
    style: { text, rich, fontSize: 17, fontFamily: FONT, fill: INK, align: 'center', verticalAlign: 'middle' } };
}
const richH2O = {
  n: { fontSize: 17, fontFamily: FONT, fill: INK },
  s: { fontSize: 11, fontFamily: FONT, fill: INK, verticalAlign: 'bottom', padding: [0, 0, -3, 0] }
};

chart.setOption({
  graphic: [
    { type: 'rect', silent: true, z: 50,
      shape: { x: bx0, y: byTop, width: bx1 - bx0, height: byBot - byTop },
      style: { fill: 'rgba(0,0,0,0.21)' } },
    slash(gapMid - 3, grids[0].top + 1), slash(gapMid + 3, grids[0].top + 1),
    slash(gapMid - 3, grids[4].top + grids[4].height + 3), slash(gapMid + 3, grids[4].top + grids[4].height + 3),
    vtitle(27, 99, '{n|H}{s|2}{n|O (ppm)}', richH2O),
    vtitle(26, 281, 'x-HWV (ppm)'),
    vtitle(26, 435, 'x-HWV (%)'),
    vtitle(834, 102, 'Θ (K)'),
    { type: 'text', x: 431, y: 578, silent: true, z: 60,
      style: { text: 'UTC seconds', fontSize: 17, fontFamily: FONT, fill: INK, align: 'center', verticalAlign: 'middle' } }
  ]
});
</script>
</body>
</html>
